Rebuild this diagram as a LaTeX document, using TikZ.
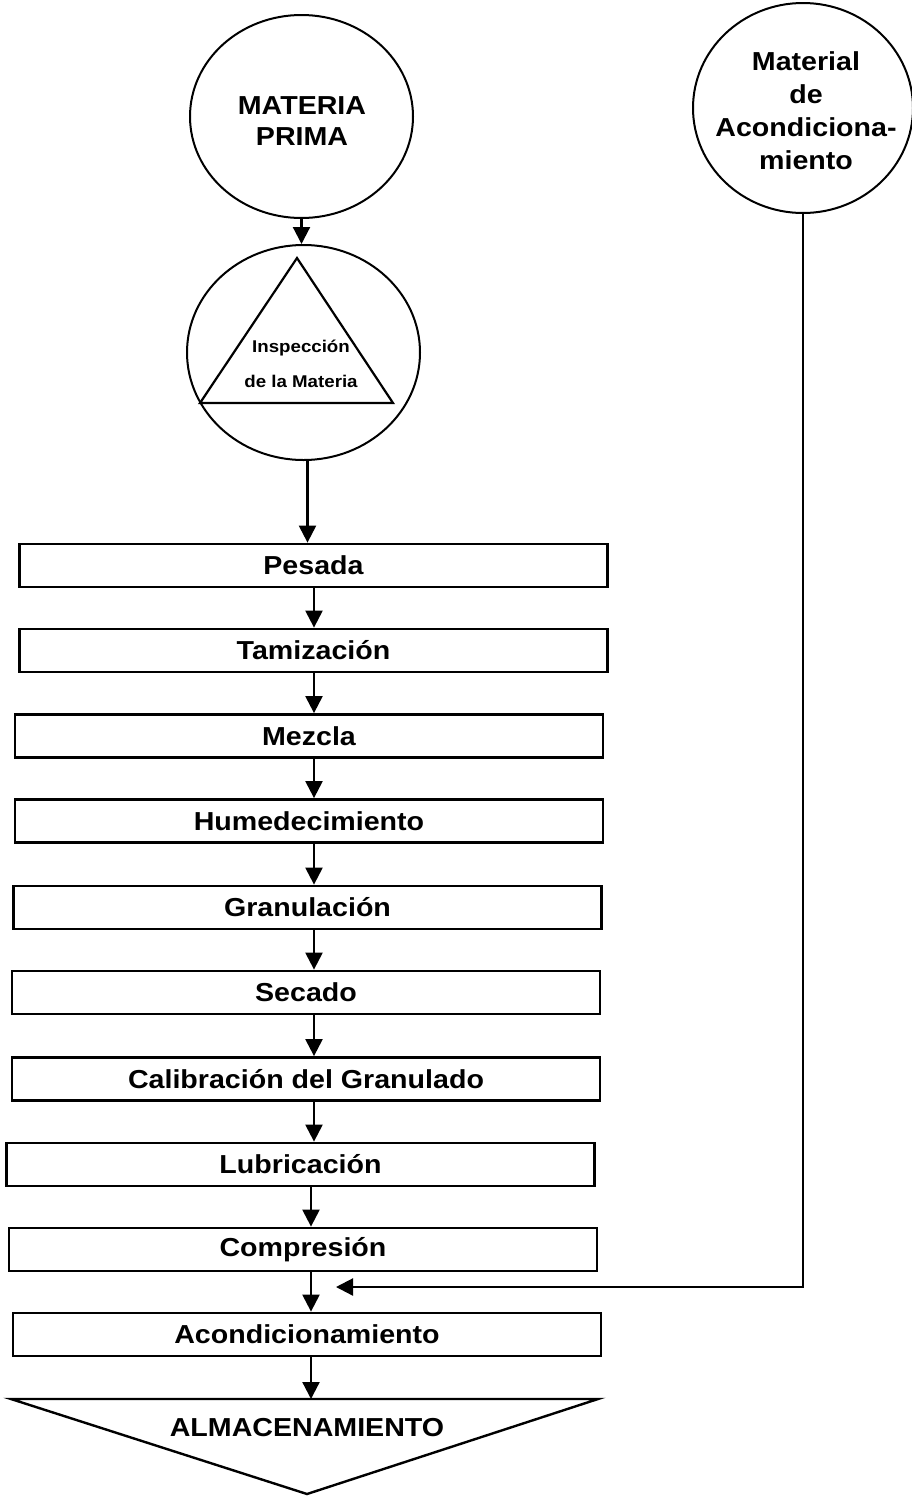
\documentclass[tikz,border=0pt]{standalone}
\usepackage{fontspec}
\setmainfont{Liberation Sans}[FakeStretch=1.1]
\usetikzlibrary{shapes.geometric, arrows.meta}

\begin{document}
\begin{tikzpicture}[x=1pt, y=-1pt,
    paso/.style={draw, line width=2.8pt, rectangle, minimum width=588pt, minimum height=43pt, inner sep=0pt, font=\bfseries\fontsize{26}{31}\selectfont},
    circulo/.style={draw, line width=2pt, ellipse, inner sep=0pt},
    etiqueta/.style={align=center, inner sep=0pt, font=\bfseries\fontsize{26}{31}\selectfont},
    flecha/.style={line width=2.2pt, -{Triangle[length=17pt, width=17pt]}}]
    \useasboundingbox (0,0) rectangle (911,1497);
    % Entradas
    \node[circulo, minimum width=223pt, minimum height=203pt] (mp) at (301.5,116.5) {};
    \node[etiqueta] (mptxt) at (302,121.5) {MATERIA\\PRIMA};
    \node[circulo, minimum width=220pt, minimum height=210pt] (matacond) at (803,108) {};
    \node[etiqueta, font=\bfseries\fontsize{26}{33}\selectfont] (matacondtxt) at (806,111) {Material\\de\\Acondiciona-\\miento};
    % Inspeccion
    \node[circulo, minimum width=233pt, minimum height=215pt] (insp) at (303.5,352.5) {};
    \draw[line width=2.2pt, line join=miter] (297,258) -- (393,403) -- (200,403) -- cycle;
    \node[etiqueta, font=\bfseries\fontsize{17}{35}\selectfont] (insptxt) at (301,364) {Inspección\\de la Materia};
    % Operaciones
    \node[paso] (pesada) at (313.5,565.5) {Pesada};
    \node[paso] (tamiz) at (313.5,650.5) {Tamización};
    \node[paso] (mezcla) at (309,736) {Mezcla};
    \node[paso] (humed) at (309,821) {Humedecimiento};
    \node[paso] (granul) at (307.5,907.5) {Granulación};
    \node[paso] (secado) at (306,992.5) {Secado};
    \node[paso] (calib) at (306,1079) {Calibración del Granulado};
    \node[paso] (lubric) at (300.5,1164.5) {Lubricación};
    \node[paso] (compres) at (303,1249.5) {Compresión};
    \node[paso] (acond) at (307,1334.5) {Acondicionamiento};
    % Almacenamiento
    \coordinate (almizq) at (11,1399);
    \coordinate (almder) at (598,1399);
    \coordinate (almpunta) at (307,1494);
    \draw[line width=2.4pt, line join=miter] (almizq) -- (almder) -- (almpunta) -- cycle;
    \node[etiqueta] (alm) at (307,1428) {ALMACENAMIENTO};
    % Flujo
    \coordinate (eje) at (314,0);
    \coordinate (entrada) at (336,1287);
    \draw[flecha] (mp.south) -- (mp.south |- insp.north);
    \draw[flecha] ([xshift=4pt]insp.south) -- ([xshift=4pt]insp.south |- pesada.north);
    \draw[flecha] (pesada.south -| eje) -- (tamiz.north -| eje);
    \draw[flecha] (tamiz.south -| eje) -- (mezcla.north -| eje);
    \draw[flecha] (mezcla.south -| eje) -- (humed.north -| eje);
    \draw[flecha] (humed.south -| eje) -- (granul.north -| eje);
    \draw[flecha] (granul.south -| eje) -- (secado.north -| eje);
    \draw[flecha] (secado.south -| eje) -- (calib.north -| eje);
    \draw[flecha] (calib.south -| eje) -- (lubric.north -| eje);
    \draw[flecha] ([xshift=-3pt]lubric.south -| eje) -- ([xshift=-3pt]compres.north -| eje);
    \draw[flecha] ([xshift=-3pt]compres.south -| eje) -- ([xshift=-3pt]acond.north -| eje);
    \draw[flecha] ([xshift=-3pt]acond.south -| eje) -- ([xshift=-3pt]almizq -| eje);
    \draw[flecha] (matacond.south) |- (entrada);
\end{tikzpicture}
\end{document}
